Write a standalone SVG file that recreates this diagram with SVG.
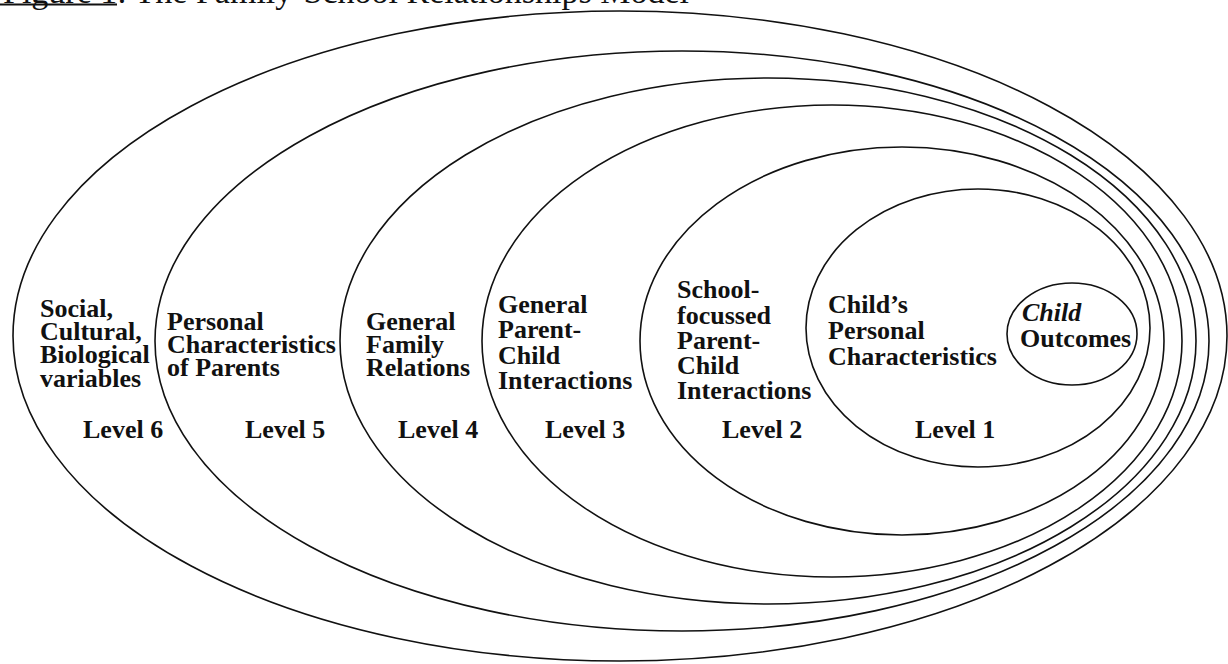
<svg xmlns="http://www.w3.org/2000/svg" width="1228" height="664" viewBox="0 0 1228 664">
<style>
  .ring { fill: none; stroke: #111; stroke-width: 1.6; }
  .lbl { font-family: "Liberation Serif", "Times New Roman", serif; font-weight: bold; font-size: 26px; fill: #111; }
  .title { font-family: "Liberation Serif", "Times New Roman", serif; font-size: 34px; fill: #111; }
</style>
<rect x="0" y="0" width="1228" height="664" fill="#fff"/>
<g id="title">
  <text class="title" x="3" y="3">Figure 1: The Family-School Relationships Model</text>
  <line x1="0" y1="4.6" x2="117" y2="4.6" stroke="#111" stroke-width="2"/>
</g>
<g id="level6">
  <ellipse class="ring" cx="620" cy="336" rx="607" ry="325"/>
  <text class="lbl" x="40" y="317">Social,</text>
  <text class="lbl" x="40" y="340">Cultural,</text>
  <text class="lbl" x="40" y="363">Biological</text>
  <text class="lbl" x="40" y="387">variables</text>
  <text class="lbl" x="83" y="438">Level 6</text>
</g>
<g id="level5">
  <ellipse class="ring" cx="682" cy="341" rx="527" ry="290"/>
  <text class="lbl" x="167" y="330">Personal</text>
  <text class="lbl" x="167" y="353">Characteristics</text>
  <text class="lbl" x="167" y="376">of Parents</text>
  <text class="lbl" x="245" y="438">Level 5</text>
</g>
<g id="level4">
  <ellipse class="ring" cx="768" cy="341" rx="428" ry="263"/>
  <text class="lbl" x="366" y="330">General</text>
  <text class="lbl" x="366" y="353">Family</text>
  <text class="lbl" x="366" y="376">Relations</text>
  <text class="lbl" x="398" y="438">Level 4</text>
</g>
<g id="level3">
  <ellipse class="ring" cx="832" cy="341" rx="350" ry="236"/>
  <text class="lbl" x="498" y="313">General</text>
  <text class="lbl" x="498" y="338">Parent-</text>
  <text class="lbl" x="498" y="364">Child</text>
  <text class="lbl" x="498" y="389">Interactions</text>
  <text class="lbl" x="545" y="438">Level 3</text>
</g>
<g id="level2">
  <ellipse class="ring" cx="902" cy="341" rx="262" ry="194"/>
  <text class="lbl" x="677" y="298">School-</text>
  <text class="lbl" x="677" y="324">focussed</text>
  <text class="lbl" x="677" y="349">Parent-</text>
  <text class="lbl" x="677" y="374">Child</text>
  <text class="lbl" x="677" y="399">Interactions</text>
  <text class="lbl" x="722" y="438">Level 2</text>
</g>
<g id="level1">
  <ellipse class="ring" cx="978" cy="328" rx="172" ry="139"/>
  <text class="lbl" x="828" y="313">Child’s</text>
  <text class="lbl" x="828" y="339">Personal</text>
  <text class="lbl" x="828" y="365">Characteristics</text>
  <text class="lbl" x="915" y="438">Level 1</text>
</g>
<g id="child-outcomes">
  <ellipse class="ring" cx="1072" cy="334" rx="65" ry="51"/>
  <text class="lbl" x="1022" y="321" font-style="italic">Child</text>
  <text class="lbl" x="1020" y="347">Outcomes</text>
</g>
<g id="connectors"/>
</svg>
